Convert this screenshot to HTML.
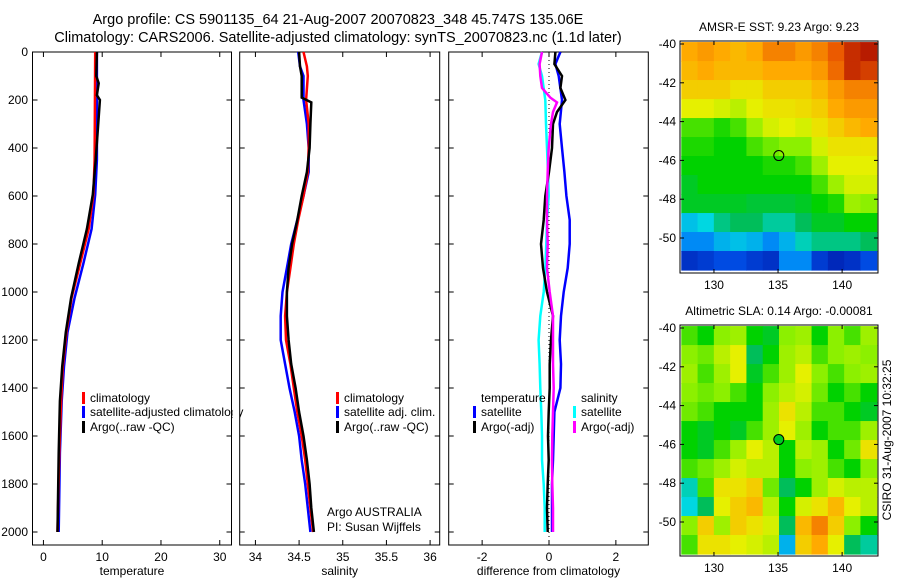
<!DOCTYPE html>
<html><head><meta charset="utf-8"><style>
body{margin:0;background:#fff;}
svg{display:block;font-family:"Liberation Sans",sans-serif;}
</style></head><body>
<svg id="c" width="900" height="580" viewBox="0 0 900 580">
<text x="338" y="24" font-size="14.5" text-anchor="middle">Argo profile: CS 5901135_64 21-Aug-2007 20070823_348 45.747S 135.06E</text>
<text x="338" y="42" font-size="14.5" text-anchor="middle">Climatology: CARS2006. Satellite-adjusted climatology: synTS_20070823.nc (1.1d later)</text>
</svg>
<script>
// ---- data ----
const depthTicks=[0,200,400,600,800,1000,1200,1400,1600,1800,2000];
const tempTicks=[0,10,20,30];
const salTicks=[34,34.5,35,35.5,36];
const diffTicks=[-2,0,2];
const tempDepths=[0,450,594,737,881,1024,1168,1311,1455,1670,2000];
const tempClim=[8.8,8.7,8.5,7.7,6.25,4.8,3.9,3.3,3.0,2.7,2.4];
const tempSat=[9.1,9.1,8.8,8.2,6.8,5.3,4.1,3.5,3.1,2.8,2.6];
const tempArgoDepths=[0,100,130,180,200,450,594,737,881,1024,1168,1311,1455,1670,2000];
const tempArgo=[9.1,9.0,9.4,9.1,9.6,8.9,8.4,7.4,6.0,4.7,3.8,3.2,2.8,2.6,2.4];
const salDepths=[0,60,100,200,300,400,500,600,700,800,900,1000,1100,1200,1300,1400,1500,1600,1700,1800,1900,2000];
const salClim=[34.55,34.59,34.6,34.58,34.61,34.61,34.6,34.55,34.49,34.44,34.4,34.36,34.34,34.35,34.4,34.44,34.48,34.53,34.57,34.6,34.63,34.66];
const salSat=[34.49,34.51,34.55,34.55,34.59,34.61,34.61,34.55,34.48,34.41,34.36,34.31,34.29,34.29,34.34,34.39,34.45,34.5,34.53,34.57,34.6,34.63];
const salArgoDepths=[0,60,100,150,190,210,300,400,500,600,700,800,900,1000,1100,1200,1300,1400,1500,1600,1700,1800,1900,2000];
const salArgo=[34.5,34.51,34.53,34.53,34.53,34.64,34.63,34.62,34.59,34.53,34.48,34.42,34.38,34.36,34.36,34.38,34.41,34.46,34.5,34.55,34.59,34.62,34.64,34.67];
const diffDepths=[0,50,100,200,300,400,500,600,700,800,900,1000,1100,1200,1300,1400,1500,1600,1700,1800,1900,2000];
const diffTempSat=[0.34,0.19,0.29,0.39,0.32,0.39,0.46,0.52,0.62,0.62,0.56,0.44,0.36,0.32,0.36,0.34,0.16,0.14,0.12,0.09,0.09,0.09];
const diffSalSat=[-0.21,-0.31,-0.21,-0.11,-0.09,-0.06,-0.03,-0.01,-0.06,-0.08,-0.11,-0.16,-0.26,-0.31,-0.28,-0.26,-0.23,-0.21,-0.21,-0.16,-0.13,-0.13];
const diffTempArgoDepths=[0,50,100,150,200,250,300,400,500,600,700,800,900,1000,1100,1200,1300,1400,1500,1600,1700,1800,1900,2000];
const diffTempArgo=[0.19,0.16,0.39,0.34,0.49,0.24,0.12,0.09,0,-0.11,-0.16,-0.24,-0.18,-0.06,0.12,0.06,0.02,0.02,-0.01,-0.03,-0.01,-0.04,-0.06,-0.04];
const diffSalArgoDepths=[0,50,100,150,190,210,250,300,400,500,600,700,800,900,1000,1100,1200,1300,1400,1500,1600,1700,1800,1900,2000];
const diffSalArgo=[-0.21,-0.28,-0.26,-0.21,0.04,0.24,0.12,0.06,-0.01,-0.04,-0.06,-0.06,-0.04,-0.06,0.02,0.12,0.12,0.12,0.14,0.12,0.1,0.09,0.1,0.12,0.12];
const lonTicks=[130,135,140];
const latTicks=[-40,-42,-44,-46,-48,-50];
const argoLon=135.06, argoLat=-45.75;
const sstGrid=[
[.8,.82,.8,.78,.8,.85,.85,.82,.85,.9,.95,.97],
[.78,.8,.78,.78,.78,.8,.8,.8,.82,.88,.95,.93],
[.75,.75,.75,.72,.72,.75,.75,.75,.78,.82,.85,.85],
[.7,.7,.68,.65,.7,.72,.72,.73,.75,.8,.82,.82],
[.55,.55,.52,.55,.62,.68,.7,.68,.72,.75,.78,.8],
[.52,.52,.5,.5,.55,.58,.6,.6,.68,.72,.72,.72],
[.5,.5,.5,.5,.5,.52,.52,.55,.62,.7,.7,.7],
[.48,.5,.5,.5,.5,.5,.5,.5,.55,.62,.68,.68],
[.48,.48,.48,.48,.47,.47,.47,.48,.5,.52,.62,.6],
[.32,.35,.42,.45,.45,.4,.4,.45,.48,.48,.5,.5],
[.25,.25,.3,.32,.3,.25,.3,.38,.42,.42,.42,.45],
[.1,.12,.15,.15,.12,.1,.25,.25,.12,.08,.1,.15]];
const slaGrid=[
[.55,.5,.6,.62,.5,.48,.6,.62,.5,.6,.55,.62],
[.6,.58,.65,.7,.45,.5,.62,.65,.55,.6,.62,.6],
[.62,.55,.62,.7,.48,.55,.62,.7,.6,.55,.6,.62],
[.6,.58,.6,.55,.5,.6,.65,.68,.58,.5,.55,.5],
[.58,.55,.5,.5,.5,.62,.72,.65,.55,.55,.5,.48],
[.5,.48,.5,.48,.55,.62,.7,.62,.5,.55,.55,.62],
[.5,.48,.55,.62,.7,.65,.5,.65,.62,.5,.58,.72],
[.55,.58,.62,.68,.65,.65,.5,.6,.62,.55,.5,.6],
[.38,.55,.72,.72,.75,.58,.45,.5,.62,.68,.65,.65],
[.35,.45,.7,.75,.78,.65,.5,.68,.72,.78,.7,.65],
[.6,.75,.62,.75,.72,.68,.45,.78,.85,.75,.6,.5],
[.55,.72,.72,.7,.68,.65,.3,.75,.8,.7,.45,.4]];

const svg=document.getElementById('c');
const NS='http://www.w3.org/2000/svg';
function mk(tag,attrs,parent){const e=document.createElementNS(NS,tag);for(const k in attrs)e.setAttribute(k,attrs[k]);(parent||svg).appendChild(e);return e;}
function txt(x,y,s,size,anchor,parent){const t=mk('text',{x:x,y:y,'font-size':size,'text-anchor':anchor||'start'},parent);t.textContent=s;return t;}

const yTop=52,yPer=0.24;
const yD=d=>yTop+d*yPer;
const yBottom=545;

function panel(name,x0,x1,xmin,xmax,ticks,label,showY){
  const g=mk('g',{});
  
  
  const xs=v=>x0+(v-xmin)/(xmax-xmin)*(x1-x0);
  const fr=mk('rect',{x:x0,y:yTop,width:x1-x0,height:yBottom-yTop,fill:'none',stroke:'#000','stroke-width':1},g);
  
  
  depthTicks.forEach(d=>{
    mk('line',{x1:x0,x2:x0+5,y1:yD(d),y2:yD(d),stroke:'#000'},g);
    mk('line',{x1:x1,x2:x1-5,y1:yD(d),y2:yD(d),stroke:'#000'},g);
    if(showY){const t=txt(28,yD(d)+4,String(d),12,'end',g);
      
      }
  });
  ticks.forEach(v=>{
    const x=xs(v);
    mk('line',{x1:x,x2:x,y1:yBottom,y2:yBottom-5,stroke:'#000'},g);
    mk('line',{x1:x,x2:x,y1:yTop,y2:yTop+5,stroke:'#000'},g);
    const t=txt(x,yBottom+16,String(v),12,'middle',g);
    
    
  });
  const l=txt((x0+x1)/2,575,label,12,'middle',g);
  
  
  return {g,xs};
}
function series(p,depths,vals,color,name,w){
  const pts=depths.map((d,i)=>p.xs(vals[i]).toFixed(1)+','+yD(d).toFixed(1)).join(' ');
  const e=mk('polyline',{points:pts,fill:'none',stroke:color,'stroke-width':w||2.5,'stroke-linejoin':'miter'},p.g);
  
  
}
function legend(x,y,color,label,name){
  const g=mk('g',{});
  
  
  if(color) mk('rect',{x:x,y:y-10,width:3,height:12,fill:color},g);
  txt(x+8,y,label,12,'start',g);
}

// panel 1
const p1=panel('temperature-panel',32.5,231.5,-1.86,32,tempTicks,'temperature',true);
series(p1,tempDepths,tempSat,'#0000ff','temp-satellite-line');
series(p1,tempDepths,tempClim,'#ff0000','temp-climatology-line');
series(p1,tempArgoDepths,tempArgo,'#000','temp-argo-line');
legend(82,402,'#ff0000','climatology','legend-climatology');
legend(82,416,'#0000ff','satellite-adjusted climatology','legend-satellite-adjusted');
legend(82,431,'#000','Argo(..raw -QC)','legend-argo');
mk('rect',{x:232.5,y:300,width:7,height:150,fill:'#fff'});

// panel 2
const p2=panel('salinity-panel',239.7,439.7,33.82,36.11,salTicks,'salinity',false);
series(p2,salDepths,salSat,'#0000ff','sal-satellite-line');
series(p2,salDepths,salClim,'#ff0000','sal-climatology-line');
series(p2,salArgoDepths,salArgo,'#000','sal-argo-line');
legend(336,402,'#ff0000','climatology','legend-sal-climatology');
legend(336,416,'#0000ff','satellite adj. clim.','legend-sal-satellite');
legend(336,431,'#000','Argo(..raw -QC)','legend-sal-argo');
txt(327,516,'Argo AUSTRALIA',12);
txt(327,531,'PI: Susan Wijffels',12);

// panel 3
const p3=panel('difference-panel',448.7,648.3,-3.0,2.97,diffTicks,'difference from climatology',false);
mk('line',{x1:p3.xs(0),x2:p3.xs(0),y1:yTop,y2:yBottom,stroke:'#000','stroke-dasharray':'1,3'},p3.g);
series(p3,diffDepths,diffTempSat,'#0000ff','diff-temp-satellite-line');
series(p3,diffDepths,diffSalSat,'#00ffff','diff-sal-satellite-line');
series(p3,diffTempArgoDepths,diffTempArgo,'#000','diff-temp-argo-line');
series(p3,diffSalArgoDepths,diffSalArgo,'#ff00ff','diff-sal-argo-line');
legend(473,402,null,'temperature','legend-temperature-heading');
legend(473,416,'#0000ff','satellite','legend-temp-satellite');
legend(473,431,'#000','Argo(-adj)','legend-temp-argo');
legend(573,402,null,'salinity','legend-salinity-heading');
legend(573,416,'#00ffff','satellite','legend-sal-satellite-diff');
legend(573,431,'#ff00ff','Argo(-adj)','legend-sal-argo-diff');

// maps
const cmStops=[[0,[0,0,140]],[0.2,[0,100,255]],[0.35,[0,215,225]],[0.45,[0,190,90]],[0.5,[0,210,0]],[0.6,[140,240,0]],[0.7,[230,240,0]],[0.8,[255,170,0]],[0.9,[235,90,0]],[1,[160,0,0]]];
function cmap(v){
  v=Math.max(0,Math.min(1,v));
  for(let i=1;i<cmStops.length;i++){
    if(v<=cmStops[i][0]){
      const a=cmStops[i-1],b=cmStops[i],t=(v-a[0])/(b[0]-a[0]);
      const c=a[1].map((x,k)=>Math.round(x+(b[1][k]-x)*t));
      return 'rgb('+c.join(',')+')';
    }
  }
  return 'rgb(160,0,0)';
}
function map(name,grid,fy0,fy1,title,lat40y,filled){
  const g=mk('g',{});
  
  
  const fx0=680,fx1=878;
  const lonMin=127.35,lonMax=142.8;
  const xs=lon=>fx0+(lon-lonMin)/(lonMax-lonMin)*(fx1-fx0);
  const ys=lat=>lat40y+(-40-lat)*19.4;
  const rows=grid.length,cols=grid[0].length;
  const gx0=xs(127.45),gx1=xs(142.7),gy0=ys(-39.9),gy1=ys(-51.65);
  const cw=(gx1-gx0)/cols,ch=(gy1-gy0)/rows;
  grid.forEach((row,i)=>row.forEach((v,j)=>{
    const c=mk('rect',{x:(gx0+j*cw).toFixed(2),y:(gy0+i*ch).toFixed(2),width:(cw+0.6).toFixed(2),height:(ch+0.6).toFixed(2),fill:cmap(v)},g);
    
    
  }));
  mk('rect',{x:fx0,y:fy0,width:fx1-fx0,height:fy1-fy0,fill:'none',stroke:'#000'},g);
  lonTicks.forEach(l=>{
    mk('line',{x1:xs(l),x2:xs(l),y1:fy1,y2:fy1-4,stroke:'#000'},g);
    mk('line',{x1:xs(l),x2:xs(l),y1:fy0,y2:fy0+4,stroke:'#000'},g);
    txt(xs(l),fy1+16,String(l),12,'middle',g);
  });
  latTicks.forEach(l=>{
    mk('line',{x1:fx0,x2:fx0+4,y1:ys(l),y2:ys(l),stroke:'#000'},g);
    mk('line',{x1:fx1,x2:fx1-4,y1:ys(l),y2:ys(l),stroke:'#000'},g);
    txt(676,ys(l)+4,String(l),12,'end',g);
  });
  const c=mk('circle',{cx:xs(argoLon),cy:ys(argoLat),r:5,fill:filled||'none',stroke:'#000','stroke-width':1},g);
  
  
  const t=txt(779,fy0-10,title,12,'middle',g);
  
  
}
map('sst-map',sstGrid,41,273,'AMSR-E SST: 9.23 Argo: 9.23',44,null);
map('sla-map',slaGrid,325,556,'Altimetric SLA: 0.14 Argo: -0.00081',328,'#00cc22');
const st=txt(0,0,'CSIRO 31-Aug-2007 10:32:25',12,'middle');
st.setAttribute('transform','translate(891,440) rotate(-90)');


</script>
</body></html>
